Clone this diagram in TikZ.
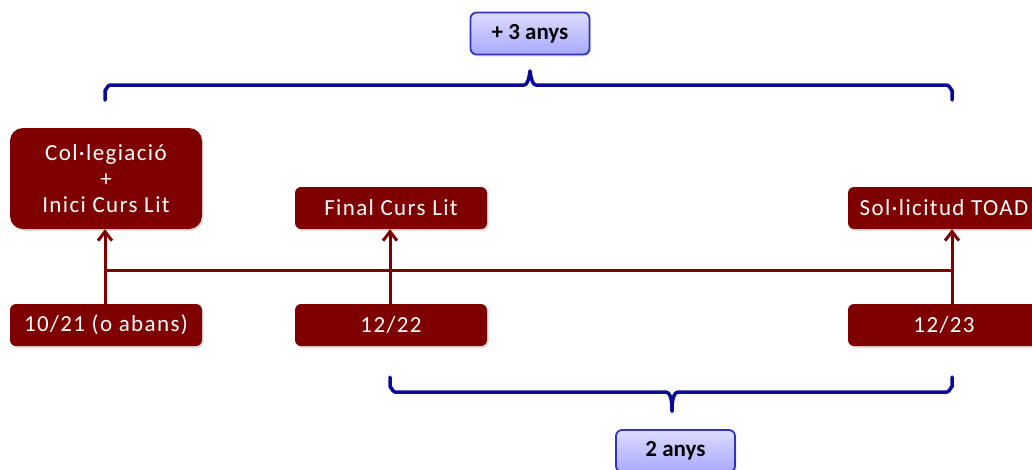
\documentclass[tikz,border=0pt]{standalone}
\usepackage{fontspec}
\setmainfont{Carlito}[LetterSpace=6]
\newfontfamily\boldlab{Carlito}[BoldFont=Carlito Bold]
\usetikzlibrary{arrows.meta,shadows}
\definecolor{darkred}{HTML}{7F0000}
\definecolor{bracec}{HTML}{0A0A96}
\definecolor{boxborder}{HTML}{3333C0}
\definecolor{boxtop}{HTML}{DCDCFF}
\definecolor{boxbot}{HTML}{A9A9FF}
\tikzset{
  redbox/.style={fill=darkred, text=white, rounded corners=6pt, minimum width=192pt, minimum height=42pt,
    inner sep=0pt, font=\fontsize{23}{26}\selectfont, align=center,
    drop shadow={shadow xshift=1.5pt, shadow yshift=-2pt, opacity=0.25}},
  bigredbox/.style={redbox, rounded corners=13pt, minimum height=101pt},
  bluebox/.style={draw=boxborder, line width=1.8pt, top color=boxtop, bottom color=boxbot, rounded corners=6pt,
    minimum width=119pt, minimum height=42pt, inner sep=0pt, font=\boldlab\bfseries\fontsize{23}{26}\selectfont,
    drop shadow={shadow xshift=1.5pt, shadow yshift=-2pt, opacity=0.2}},
  conn/.style={draw=darkred, line width=3pt},
  arr/.style={conn, -{Straight Barb[length=9pt, width=14pt, line width=3pt]}},
  bracel/.style={draw=bracec, line width=3.5pt, line cap=round, line join=round}
}
\begin{document}
\begin{tikzpicture}[x=1pt, y=-1pt]
\useasboundingbox (0,0) rectangle (1032,469);
% top label and brace
\node[bluebox] (plus3) at (530,33.5) {+ 3 anys};
\coordinate (tbL) at (105,100);
\coordinate (tbR) at (952,100);
\coordinate (tbTip) at (530,72);
\draw[bracel] (tbL) -- (105,90) to[out=-90,in=180] (110,85) -- (524,85) to[out=0,in=90] (tbTip)
  to[out=90,in=180] (536,85) -- (947,85) to[out=0,in=-90] (952,90) -- (tbR);
% top row
\node[bigredbox] (colleg) at (106,178.5) {Col·legiació\\[0pt]+\\[0pt]Inici Curs Lit};
\node[redbox] (final) at (391,208) {Final Curs Lit};
\node[redbox] (toad) at (944,208) {Sol·licitud TOAD};
% bottom row
\node[redbox] (d1) at (106,325) {10/21 (o abans)};
\node[redbox] (d2) at (391,325) {12/22};
\node[redbox] (d3) at (944,325) {12/23};
% connectors
\coordinate (hL) at (105,270);
\coordinate (hR) at (952,270);
\draw[conn] (hL) -- (hR);
\draw[arr] ([xshift=-1pt]d1.north) -- ([xshift=-1pt]colleg.south);
\draw[arr] ([xshift=-1pt]d2.north) -- ([xshift=-1pt]final.south);
\draw[arr] ([xshift=8pt]d3.north) -- ([xshift=8pt]toad.south);
% bottom brace and label
\coordinate (bbL) at (390,377);
\coordinate (bbR) at (952,377);
\coordinate (bbTip) at (672,410);
\draw[bracel] (bbL) -- (390,387) to[out=90,in=180] (395,392) -- (666,392) to[out=0,in=-90] (bbTip)
  to[out=-90,in=180] (678,392) -- (947,392) to[out=0,in=90] (952,387) -- (bbR);
\node[bluebox] (two) at (675.5,451) {2 anys};
\end{tikzpicture}
\end{document}
